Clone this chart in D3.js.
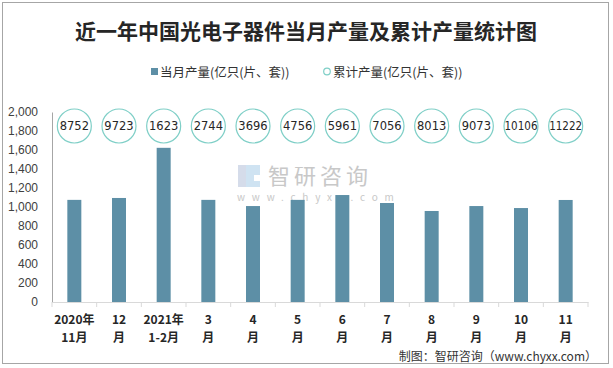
<!DOCTYPE html>
<html><head><meta charset="utf-8">
<script src="https://cdn.jsdelivr.net/npm/d3@7"></script>
<style>body{margin:0;background:#fff}svg{display:block}</style>
</head><body>
<script>
const categories = ["2020年|11月","12|月","2021年|1-2月","3|月","4|月","5|月","6|月","7|月","8|月","9|月","10|月","11|月"];
const monthly = [1075, 1095, 1623, 1075, 1010, 1075, 1126, 1042, 958, 1010, 989, 1074];
const cumulative = [8752, 9723, 1623, 2744, 3696, 4756, 5961, 7056, 8013, 9073, 10106, 11222];
const yTicks = [0,200,400,600,800,1000,1200,1400,1600,1800,2000];
const title = "近一年中国光电子器件当月产量及累计产量统计图";
const legendNames = ["当月产量(亿只(片、套))","累计产量(亿只(片、套))"];
const source = "制图：智研咨询（www.chyxx.com）";

const W=613,H=368;
const svg=d3.select("body").append("svg").attr("width",W).attr("height",H);
const font="'Noto Sans CJK SC','Microsoft YaHei',sans-serif";
svg.append("rect").attr("x",2.5).attr("y",2.5).attr("width",606).attr("height",361)
  .attr("fill","#fff").attr("stroke","#a6a6a6");

svg.append("text").attr("x",306).attr("y",39).attr("text-anchor","middle")
  .attr("font-family",font).attr("font-weight","bold").attr("font-size",21).attr("fill","#262626").text(title);

// legend
const lg=svg.append("g").attr("font-family",font).attr("font-size",12.5).attr("fill","#333");
lg.append("rect").attr("x",151).attr("y",68).attr("width",7).attr("height",7).attr("fill","#5d8fa6");
lg.append("text").attr("x",160).attr("y",76.5).text(legendNames[0]);
lg.append("circle").attr("cx",327).attr("cy",71.5).attr("r",3.3).attr("fill","none").attr("stroke","#7fcfc7").attr("stroke-width",1.2);
lg.append("text").attr("x",333).attr("y",76.5).text(legendNames[1]);

const x=d3.scaleBand().domain(categories).range([52,588]).paddingInner(0).paddingOuter(0);
const y=d3.scaleLinear().domain([0,2000]).range([302,112]);

// watermark
const wm=svg.append("g");
wm.append("rect").attr("x",238).attr("y",165).attr("width",8).attr("height",22).attr("fill","#d5dcea");
wm.append("path").attr("d","M246,165 h14 v10 h-6 v6 h6 v6 h-14 z").attr("fill","#cfe3f2");
wm.append("text").attr("x",268).attr("y",184).attr("font-family",font).attr("font-size",22).attr("fill","#c8c8c8").attr("letter-spacing",4).text("智研咨询");
wm.append("text").attr("x",237).attr("y",201).attr("font-family",font).attr("font-size",10).attr("fill","#c8c8c8").attr("letter-spacing",6.8).text("www.chyxx.com");

// y axis
const ya=svg.append("g").attr("transform","translate(52,0)")
  .call(d3.axisLeft(y).tickValues(yTicks).tickSize(0).tickPadding(14).tickFormat(d3.format(",")));
ya.select(".domain").attr("stroke","#a6a6a6");
ya.selectAll("text").attr("font-family","'Liberation Sans',Arial,sans-serif").attr("font-size",12).attr("fill","#404040");

// bars
svg.append("g").selectAll("rect").data(monthly).join("rect")
  .attr("x",(d,i)=>x(categories[i])+x.bandwidth()/2-7).attr("width",14)
  .attr("y",d=>y(d)).attr("height",d=>y(0)-y(d)).attr("fill","#5d8fa6");

// x axis
const xa=svg.append("g").attr("transform","translate(0,302)")
  .call(d3.axisBottom(x).tickSize(0).tickFormat(""));
xa.select(".domain").attr("stroke","#d9d9d9");
const bounds=[...categories.map(c=>x(c)), x(categories[categories.length-1])+x.bandwidth()];
svg.append("g").selectAll("line").data(bounds).join("line")
  .attr("x1",d=>d).attr("x2",d=>d).attr("y1",302).attr("y2",307).attr("stroke","#d9d9d9");
const xl=svg.append("g").attr("font-family",font).attr("font-weight","bold").attr("font-size",12).attr("fill","#262626");
categories.forEach(c=>{
  const [a,b]=c.split("|");
  const cx=x(c)+x.bandwidth()/2;
  xl.append("text").attr("x",cx).attr("y",324).attr("text-anchor","middle").text(a);
  xl.append("text").attr("x",cx).attr("y",342).attr("text-anchor","middle").text(b);
});

// cumulative circles
const cg=svg.append("g").selectAll("g").data(cumulative).join("g")
  .attr("transform",(d,i)=>`translate(${x(categories[i])+x.bandwidth()/2},126)`);
cg.append("circle").attr("r",17).attr("fill","#fff").attr("stroke","#7fcfc7").attr("stroke-width",1.2);
cg.append("text").attr("text-anchor","middle").attr("dy","0.36em").attr("font-family","'DejaVu Sans',Verdana,sans-serif")
  .attr("font-size",11.5).attr("fill","#262626").attr("textLength",d=>String(d).length>4?33:null)
  .attr("lengthAdjust","spacingAndGlyphs").text(d=>d);

svg.append("text").attr("x",597).attr("y",361).attr("text-anchor","end").attr("font-family",font)
  .attr("font-size",12).attr("fill","#333").text(source);
</script>
</body></html>
